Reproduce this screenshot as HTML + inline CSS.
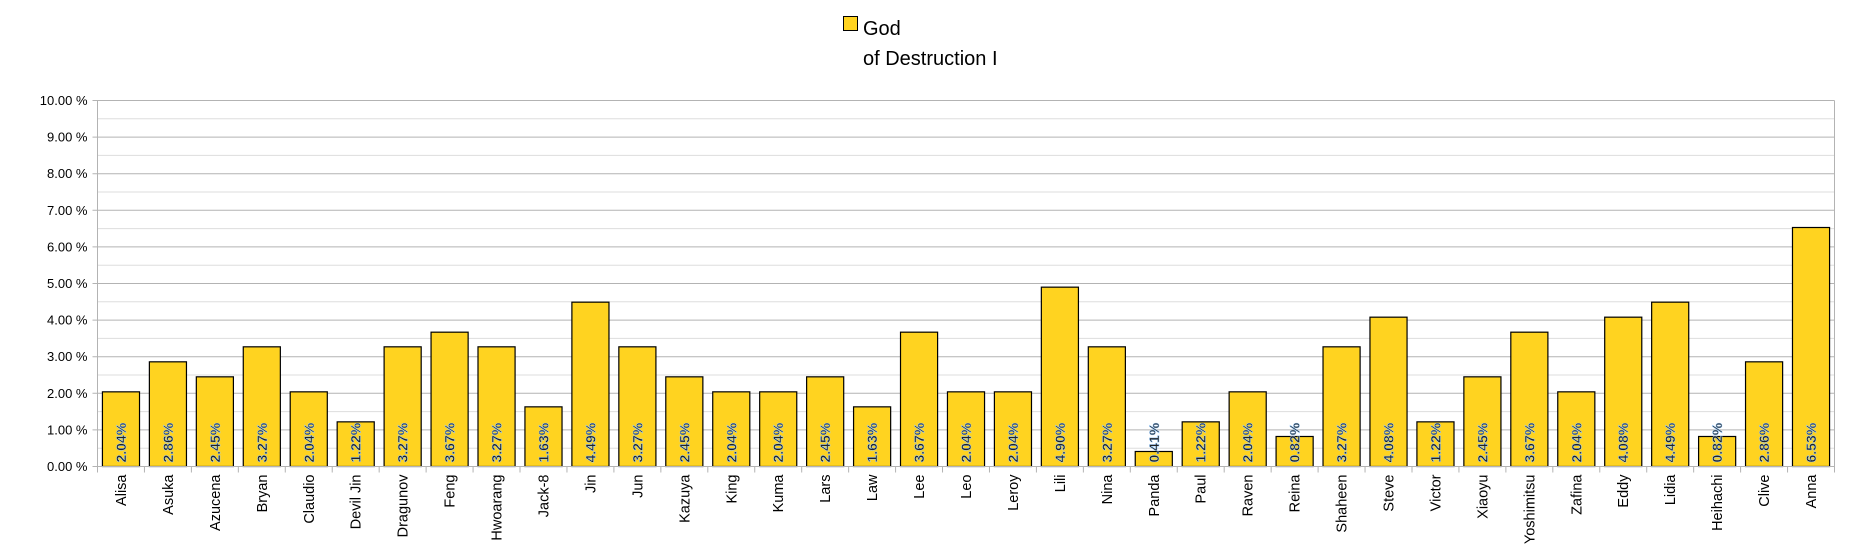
<!DOCTYPE html>
<html><head><meta charset="utf-8"><style>
html,body{margin:0;padding:0;background:#fff;}
svg{display:block;font-family:"Liberation Sans",sans-serif;}
</style></head><body>
<svg id="chart" width="1871" height="552" viewBox="0 0 1871 552">
<g>
<rect x="843.5" y="16.5" width="14" height="14" fill="#ffd320" stroke="#000" stroke-width="1"/>
<text x="863" y="35" font-size="20" fill="#000">God</text>
<text x="863" y="65" font-size="20" fill="#000">of Destruction I</text>
</g>
<g id="grid"></g><g id="bars"></g><g id="axes"></g>
</svg>
<script>
const categories=["Alisa","Asuka","Azucena","Bryan","Claudio","Devil Jin","Dragunov","Feng","Hwoarang","Jack-8","Jin","Jun","Kazuya","King","Kuma","Lars","Law","Lee","Leo","Leroy","Lili","Nina","Panda","Paul","Raven","Reina","Shaheen","Steve","Victor","Xiaoyu","Yoshimitsu","Zafina","Eddy","Lidia","Heihachi","Clive","Anna"];
const values=[2.04,2.86,2.45,3.27,2.04,1.22,3.27,3.67,3.27,1.63,4.49,3.27,2.45,2.04,2.04,2.45,1.63,3.67,2.04,2.04,4.90,3.27,0.41,1.22,2.04,0.82,3.27,4.08,1.22,2.45,3.67,2.04,4.08,4.49,0.82,2.86,6.53];
const valueLabels=["2.04%","2.86%","2.45%","3.27%","2.04%","1.22%","3.27%","3.67%","3.27%","1.63%","4.49%","3.27%","2.45%","2.04%","2.04%","2.45%","1.63%","3.67%","2.04%","2.04%","4.90%","3.27%","0.41%","1.22%","2.04%","0.82%","3.27%","4.08%","1.22%","2.45%","3.67%","2.04%","4.08%","4.49%","0.82%","2.86%","6.53%"];
const yTicks=[0,1,2,3,4,5,6,7,8,9,10];
const yTickLabels=["0.00 %","1.00 %","2.00 %","3.00 %","4.00 %","5.00 %","6.00 %","7.00 %","8.00 %","9.00 %","10.00 %"];
const L=97.5,R=1834.5,T=100.5,B=466.5,yMax=10;
const NS="http://www.w3.org/2000/svg";
const y=v=>B-(v/yMax)*(B-T);
const bw=(R-L)/categories.length;
const x=i=>L+i*bw;
function mk(tag,attrs,parent){const e=document.createElementNS(NS,tag);for(const k in attrs)e.setAttribute(k,attrs[k]);parent.appendChild(e);return e;}
const grid=document.getElementById('grid'),bars=document.getElementById('bars'),axes=document.getElementById('axes');
for(let v=0.5;v<yMax;v+=1){const l=mk('line',{x1:L,x2:R,y1:y(v),y2:y(v),stroke:'#ddd','stroke-width':1},grid);

}
yTicks.forEach((v,i)=>{const l=mk('line',{x1:L-5,x2:R,y1:y(v),y2:y(v),stroke:'#b3b3b3','stroke-width':1},grid);


const t=mk('text',{x:L-10,y:y(v)+4.5,'text-anchor':'end','font-size':13,fill:'#000'},axes);t.textContent=yTickLabels[i];

});
const ax=mk('line',{x1:L,x2:L,y1:T,y2:B+6,stroke:'#b3b3b3'},axes);


const ar=mk('line',{x1:R,x2:R,y1:T,y2:B+6,stroke:'#b3b3b3'},axes);


const xa=mk('line',{x1:L,x2:R,y1:B,y2:B,stroke:'#b3b3b3'},axes);


categories.forEach((c,i)=>{
 const tk=mk('line',{x1:x(i),x2:x(i),y1:B,y2:B+6,stroke:'#b3b3b3'},axes);
 
 
 const w=bw*0.79,bx=x(i)+(bw-w)/2,top=y(values[i]);
 const r=mk('rect',{x:bx,y:top,width:w,height:B-top,fill:'#ffd320',stroke:'#000','stroke-width':1.2},bars);
 
 
 const cx=x(i)+bw/2;
 const vl=mk('text',{transform:`translate(${cx+5},${B-4}) rotate(-90)`,'font-size':14,'font-weight':'bold',fill:'#222',stroke:'#9cf','stroke-width':0.5},bars);
 vl.textContent=valueLabels[i];
 
 
 const cl=mk('text',{transform:`translate(${cx+5},${B+8}) rotate(-90)`,'text-anchor':'end','font-size':14.5,fill:'#000'},axes);
 cl.textContent=c;
 
 
});
</script>
</body></html>
